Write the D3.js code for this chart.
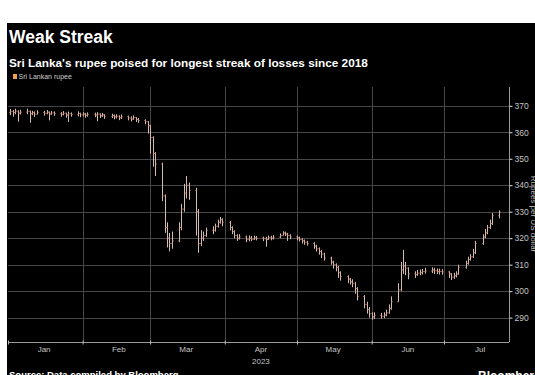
<!DOCTYPE html>
<html>
<head>
<meta charset="utf-8">
<script src="https://cdn.jsdelivr.net/npm/d3@7"></script>
<style>
  html, body { margin: 0; padding: 0; background: #fff; }
  svg { display: block; }
  text { font-family: "Liberation Sans", Arial, sans-serif; }
</style>
</head>
<body>
<div id="chart"></div>
<script>
"use strict";
// daily closes, one row per trading week (Jan 2 .. Jul 24, 2023)
const closes = [
  367.8, 367.5, 368.0, 367.2, 367.6,
  367.9, 367.0, 367.4, 366.8, 367.5,
  367.2, 367.6, 366.9, 367.3, 367.0,
  366.8, 367.2, 366.5, 367.0, 366.7,
  367.1, 366.6, 366.9, 366.4, 366.8,
  366.5, 366.9, 366.2, 366.6, 366.0,
  366.3, 365.8, 366.1, 365.5, 365.9,
  365.4, 365.0, 365.6, 364.8, 364.5,
  364.0, 362.5, 358.0, 352.0, 348.0,
  336.0, 324.0, 320.0, 318.0, 319.0,
  324.0, 331.0, 337.0, 340.0, 338.0,
  330.0, 318.0, 320.0, 321.0, 323.0,
  323.0, 324.5, 326.0, 327.0, 326.0,
  324.0, 322.5, 321.0, 320.0, 320.5,
  319.5, 320.0, 319.6, 320.2, 320.0,
  319.8, 319.5, 320.3, 320.0, 320.4,
  321.0, 322.0, 321.6, 321.0, 320.5,
  320.2, 319.5, 319.0, 318.5, 318.0,
  317.0, 316.0, 315.0, 314.0, 312.5,
  311.0, 310.0, 309.0, 307.0, 305.5,
  304.5, 303.5, 303.0, 301.0, 298.0,
  295.0, 293.0, 291.5, 290.3, 290.8,
  290.5, 291.0, 291.8, 293.5, 296.0,
  300.5, 308.0, 309.5, 308.7, 306.5,
  306.2, 306.8, 307.0, 307.4, 307.6,
  308.0, 307.7, 307.5, 307.4, 307.3,
  306.5, 305.3, 305.8, 306.5, 309.0,
  310.5, 312.0, 313.0, 314.5, 318.0,
  320.5, 322.0, 324.0, 325.5, 328.5,
  329.8
];
const highs = [
  368.8, 368.4, 368.9, 368.3, 368.5,
  368.9, 368.2, 368.1, 367.9, 368.3,
  368.1, 368.4, 367.8, 368.0, 367.9,
  367.6, 368.0, 367.4, 367.8, 367.5,
  367.9, 367.4, 367.6, 367.3, 367.5,
  367.4, 367.6, 367.1, 367.3, 366.8,
  367.0, 366.7, 366.8, 366.4, 366.7,
  366.3, 366.0, 366.4, 365.7, 365.4,
  364.9, 364.2, 362.8, 358.5, 352.5,
  348.5, 336.5, 326.0, 322.0, 322.5,
  326.0, 333.0, 340.5, 343.5, 341.0,
  339.0, 331.0, 323.0, 322.5, 324.0,
  324.5, 325.5, 327.0, 328.0, 327.5,
  326.5, 324.5, 323.0, 321.5, 321.5,
  321.0, 321.0, 320.8, 321.0, 320.8,
  320.6, 320.5, 321.0, 320.9, 321.2,
  321.8, 322.6, 322.5, 322.0, 321.5,
  321.0, 320.6, 320.0, 319.5, 319.0,
  318.5, 317.5, 316.5, 315.5, 314.5,
  313.0, 311.5, 310.5, 309.5, 307.5,
  306.0, 305.0, 304.5, 303.5, 301.5,
  298.5, 296.0, 294.0, 292.0, 292.0,
  291.8, 292.0, 293.0, 295.0, 298.0,
  303.0, 311.0, 315.6, 311.0, 309.0,
  307.5, 308.0, 308.2, 308.4, 308.8,
  309.0, 308.8, 308.6, 308.5, 308.3,
  307.5, 306.8, 306.9, 307.5, 310.0,
  311.5, 313.0, 314.0, 316.0, 319.0,
  321.5, 323.5, 325.0, 327.0, 329.5,
  330.5
];
const lows = [
  366.5, 365.9, 366.8, 364.0, 366.7,
  366.8, 363.6, 366.5, 365.8, 366.7,
  366.3, 366.8, 364.5, 366.6, 366.2,
  365.9, 366.4, 365.5, 363.9, 365.9,
  366.0, 365.7, 366.0, 365.5, 365.9,
  365.7, 364.2, 365.4, 365.8, 365.1,
  365.4, 364.9, 365.2, 364.6, 365.0,
  364.5, 364.1, 364.7, 363.9, 363.6,
  363.0, 359.5, 352.0, 347.0, 343.5,
  334.0, 322.0, 316.5, 315.0, 316.0,
  318.5, 323.0, 330.0, 335.0, 334.5,
  321.0, 314.5, 317.0, 319.0, 320.5,
  321.5, 322.5, 324.0, 325.5, 324.5,
  323.0, 321.5, 320.0, 319.0, 319.5,
  318.5, 318.8, 318.9, 319.3, 319.2,
  318.9, 316.8, 319.3, 319.2, 319.5,
  320.0, 321.0, 320.8, 319.0, 319.6,
  319.2, 318.8, 318.0, 317.5, 317.2,
  316.0, 315.0, 313.8, 312.5, 311.5,
  310.0, 308.5, 307.5, 305.0, 304.0,
  303.0, 302.5, 301.5, 299.0, 296.5,
  293.5, 291.5, 290.0, 289.2, 289.5,
  289.6, 289.8, 290.5, 291.5, 293.0,
  296.0, 300.0, 306.5, 306.0, 304.5,
  305.0, 305.8, 306.0, 306.3, 306.6,
  306.8, 306.5, 306.5, 306.3, 306.2,
  305.0, 304.2, 304.6, 305.2, 306.2,
  308.5, 310.0, 311.5, 312.5, 314.0,
  317.5, 320.0, 321.5, 323.5, 325.0,
  327.5
];
const firstOpen = 367.5;
const yTicks = [290, 300, 310, 320, 330, 340, 350, 360, 370];
const monthLabels = ["Jan", "Feb", "Mar", "Apr", "May", "Jun", "Jul"];

const W = 535, H = 375;
const mL = 8, mR = 509, mT = 87, mB = 342;

// trading days: weekdays from Jan 2
const days = d3.timeDay.range(new Date(2023, 0, 2), new Date(2023, 6, 25))
  .filter(d => d.getDay() !== 0 && d.getDay() !== 6);

const data = closes.map((c, i) => ({
  date: days[i],
  open: i === 0 ? firstOpen : closes[i - 1],
  high: highs[i],
  low: lows[i],
  close: c
}));

const x = d3.scaleTime()
  .domain([new Date(2023, 0, 1), new Date(2023, 6, 28)])
  .range([mL, mR]);
const y = d3.scaleLinear()
  .domain([280.8, 377.1])
  .range([mB, mT]);

const svg = d3.select("#chart").append("svg")
  .attr("width", W)
  .attr("height", H);

svg.append("rect")
  .attr("x", 7).attr("y", 23)
  .attr("width", W - 7).attr("height", H - 23)
  .attr("fill", "#000");

// titles
svg.append("text")
  .attr("x", 9).attr("y", 43)
  .attr("fill", "#fff")
  .attr("font-size", 17.5)
  .attr("font-weight", "bold")
  .text("Weak Streak");
svg.append("text")
  .attr("x", 9).attr("y", 67)
  .attr("fill", "#fff")
  .attr("font-size", 11.8)
  .attr("font-weight", "bold")
  .text("Sri Lanka's rupee poised for longest streak of losses since 2018");

// legend
svg.append("rect")
  .attr("x", 13).attr("y", 74)
  .attr("width", 4).attr("height", 5)
  .attr("fill", "#f0a24e");
svg.append("text")
  .attr("x", 18.5).attr("y", 79)
  .attr("fill", "#ccc")
  .attr("font-size", 7)
  .text("Sri Lankan rupee");

// grid
const months = d3.timeMonth.range(new Date(2023, 1, 1), new Date(2023, 6, 2));
svg.append("g")
  .selectAll("line")
  .data(yTicks)
  .join("line")
  .attr("x1", mL).attr("x2", mR)
  .attr("y1", d => Math.round(y(d)) + 0.5)
  .attr("y2", d => Math.round(y(d)) + 0.5)
  .attr("stroke", "#464646");
svg.append("g")
  .selectAll("line")
  .data(months)
  .join("line")
  .attr("x1", d => Math.round(x(d)) + 0.5)
  .attr("x2", d => Math.round(x(d)) + 0.5)
  .attr("y1", mT).attr("y2", mB)
  .attr("stroke", "#464646");

// right axis
const yAxis = svg.append("g")
  .attr("transform", `translate(${mR + 0.5},0)`)
  .call(d3.axisRight(y).tickValues(yTicks).tickSize(3).tickPadding(2));
yAxis.select(".domain").attr("stroke", "#999").attr("d", `M0,${mT}V${mB}`);
yAxis.selectAll(".tick line").attr("stroke", "#ddd");
yAxis.selectAll(".tick text")
  .attr("fill", "#c4c4c4")
  .attr("font-size", 8.5)
  .attr("font-family", "Liberation Sans, Arial, sans-serif");

svg.append("text")
  .attr("transform", `translate(531,214) rotate(90)`)
  .attr("text-anchor", "middle")
  .attr("fill", "#bbb")
  .attr("font-size", 8)
  .text("Rupees per US dollar");

// bottom axis
const xAxis = svg.append("g")
  .attr("transform", `translate(0,${mB + 0.5})`)
  .call(d3.axisBottom(x)
    .tickValues(d3.timeMonth.range(new Date(2023, 0, 1), new Date(2023, 6, 2)))
    .tickSize(2)
    .tickFormat(""));
xAxis.select(".domain").attr("stroke", "#999").attr("d", `M${mL},0H${mR}`);
xAxis.selectAll(".tick line").attr("stroke", "#bbb").attr("y1", -2);

const mids = d3.timeMonth.range(new Date(2023, 0, 1), new Date(2023, 6, 2))
  .map(d => d3.timeDay.offset(d, 15));
svg.append("g")
  .selectAll("text")
  .data(mids)
  .join("text")
  .attr("x", d => x(d))
  .attr("y", 352)
  .attr("text-anchor", "middle")
  .attr("fill", "#c4c4c4")
  .attr("font-size", 8)
  .text((d, i) => monthLabels[i]);
svg.append("text")
  .attr("x", x(mids[3])).attr("y", 364)
  .attr("text-anchor", "middle")
  .attr("fill", "#c4c4c4")
  .attr("font-size", 8)
  .text("2023");

// OHLC bars
const bars = svg.append("g").selectAll("g")
  .data(data)
  .join("g")
  .attr("transform", d => `translate(${Math.round(x(d.date)) + 0.5},0)`);
bars.append("line")
  .attr("y1", d => y(d.high)).attr("y2", d => y(d.low))
  .attr("stroke", "#d4bcb2");
bars.append("line")
  .attr("x1", -1.2).attr("x2", 0)
  .attr("y1", d => y(d.open)).attr("y2", d => y(d.open))
  .attr("stroke", "#c98068");
bars.append("line")
  .attr("x1", 0).attr("x2", 1.2)
  .attr("y1", d => y(d.close)).attr("y2", d => y(d.close))
  .attr("stroke", "#c98068");

// footer (cut off at the bottom edge, as in the original)
svg.append("text")
  .attr("x", 9).attr("y", 378)
  .attr("fill", "#fff")
  .attr("font-size", 9.5)
  .attr("font-weight", "bold")
  .text("Source: Data compiled by Bloomberg");
svg.append("text")
  .attr("x", 478).attr("y", 380)
  .attr("fill", "#fff")
  .attr("font-size", 12)
  .attr("font-weight", "bold")
  .text("Bloomberg");
</script>
</body>
</html>
